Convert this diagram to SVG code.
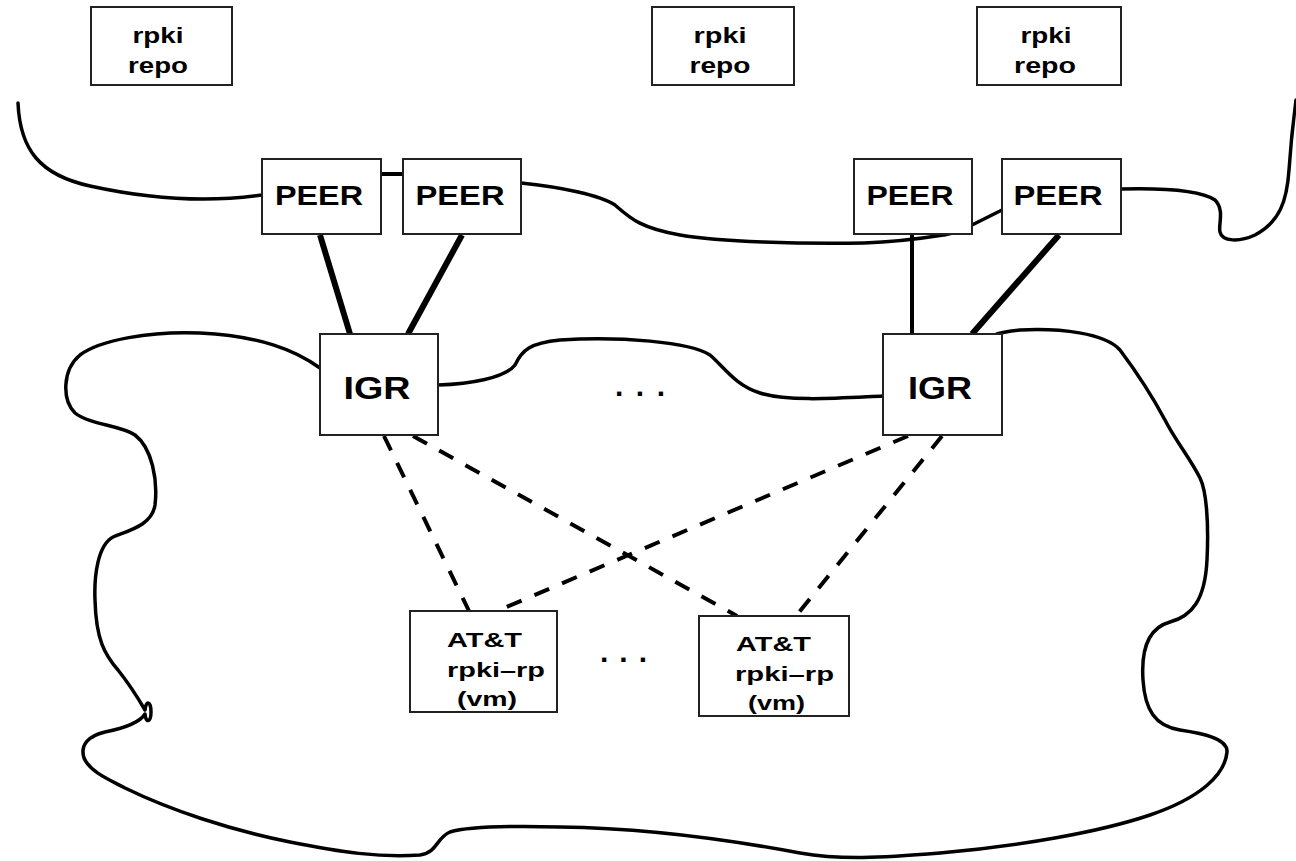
<svg xmlns="http://www.w3.org/2000/svg" width="1296" height="861" viewBox="0 0 1296 861">
<style>
.bg{fill:#fff}
.curve{fill:none;stroke:#000;stroke-width:3.5;stroke-linecap:round;stroke-linejoin:round}
.thick{fill:none;stroke:#000;stroke-width:6;stroke-linecap:butt}
.mid{fill:none;stroke:#000;stroke-width:4}
.dash{fill:none;stroke:#000;stroke-width:4;stroke-dasharray:16 14}
.box{fill:#fff;stroke:#222;stroke-width:2}
text{font-family:"Liberation Sans",Arial,Helvetica,sans-serif;font-weight:bold;fill:#000}
.repo{font-size:22px;text-anchor:middle}
.peer{font-size:28px;text-anchor:middle}
.igr{font-size:31px;text-anchor:middle}
.rp{font-size:21px}
.dots{font-size:30px}
</style>
<rect class="bg" x="0" y="0" width="1296" height="861"/>
<g id="clouds">
<path class="curve" d="M18,103 C20,150 40,175 90,186 C140,197 200,204 262,195"/>
<path class="curve" d="M521,183 C560,187 600,195 615,205 C630,218 640,228 680,235 C720,242 800,244 864,243 C900,242 925,238 944,235 C955,233 965,229 972,225 L1002,210"/>
<path class="curve" d="M1121,189 C1160,188 1200,190 1215,200 C1225,210 1218,225 1220,232 C1222,242 1240,242 1255,235 C1280,222 1287,200 1289,170 C1291,140 1294,115 1296,100"/>
<path class="curve" d="M438,385 C470,384 505,378 515,365 C522,350 530,343 560,340 C620,336 690,342 710,355 C725,368 735,385 760,393 C790,402 840,398 883,396"/>
<path class="curve" d="M320,368 C295,350 260,336 200,333 C150,331 100,340 80,355 C62,370 62,400 75,413 C90,425 120,425 135,435 C152,448 158,480 155,505 C152,525 130,530 113,537 C98,545 94,575 95,600 C96,640 105,655 118,670 C130,685 138,698 145,710 C146,700 151,701 151,712 C151,722 146,724 145,714 C140,722 125,728 105,732 C88,736 80,745 84,758 C90,772 110,780 125,788 C170,810 230,830 290,842 C340,852 380,858 420,855 C438,852 436,838 450,832 C470,826 520,826 560,827 C640,828 720,838 800,853 C840,860 880,858 940,853 C1020,846 1100,832 1150,815 C1200,798 1225,775 1227,752 C1228,738 1200,733 1180,730 C1155,726 1145,710 1143,680 C1141,650 1148,628 1170,622 C1192,616 1205,600 1207,560 C1209,520 1206,490 1200,478 C1190,458 1175,440 1165,420 C1150,392 1135,370 1120,350 C1105,333 1060,328 1020,330 C1010,331 1003,332 997,334"/>
</g>
<g id="connectors">
<line class="mid" x1="381" y1="174" x2="403" y2="174"/>
<line class="thick" x1="320" y1="235" x2="350" y2="334"/>
<line class="thick" x1="462" y1="235" x2="408" y2="334"/>
<line class="mid" x1="912" y1="235" x2="912" y2="334"/>
<line class="thick" x1="1059" y1="235" x2="972" y2="334"/>
<line class="dash" x1="384" y1="436" x2="469" y2="611"/>
<line class="dash" x1="413" y1="436" x2="737" y2="616"/>
<line class="dash" x1="908" y1="436" x2="497" y2="611"/>
<line class="dash" x1="942" y1="436" x2="796" y2="616"/>
</g>
<g id="repo1"><rect class="box" x="91" y="7" width="141" height="78"/><text class="repo" x="158" y="43" textLength="51" lengthAdjust="spacingAndGlyphs">rpki</text><text class="repo" x="158" y="73" textLength="60" lengthAdjust="spacingAndGlyphs">repo</text></g>
<g id="repo2"><rect class="box" x="652" y="7" width="142" height="78"/><text class="repo" x="720" y="43" textLength="53" lengthAdjust="spacingAndGlyphs">rpki</text><text class="repo" x="720" y="73" textLength="61" lengthAdjust="spacingAndGlyphs">repo</text></g>
<g id="repo3"><rect class="box" x="977" y="7" width="144" height="78"/><text class="repo" x="1046" y="43" textLength="51" lengthAdjust="spacingAndGlyphs">rpki</text><text class="repo" x="1045" y="73" textLength="62" lengthAdjust="spacingAndGlyphs">repo</text></g>
<g id="peer1"><rect class="box" x="262" y="159" width="119" height="75"/><text class="peer" x="319" y="205" textLength="88" lengthAdjust="spacingAndGlyphs">PEER</text></g>
<g id="peer2"><rect class="box" x="403" y="159" width="118" height="75"/><text class="peer" x="460" y="205" textLength="89" lengthAdjust="spacingAndGlyphs">PEER</text></g>
<g id="peer3"><rect class="box" x="854" y="159" width="118" height="75"/><text class="peer" x="910" y="205" textLength="87" lengthAdjust="spacingAndGlyphs">PEER</text></g>
<g id="peer4"><rect class="box" x="1002" y="159" width="119" height="75"/><text class="peer" x="1058" y="205" textLength="89" lengthAdjust="spacingAndGlyphs">PEER</text></g>
<g id="igr1"><rect class="box" x="320" y="334" width="118" height="101"/><text class="igr" x="377" y="399" textLength="67" lengthAdjust="spacingAndGlyphs">IGR</text></g>
<g id="igr2"><rect class="box" x="883" y="334" width="119" height="101"/><text class="igr" x="940" y="399" textLength="64" lengthAdjust="spacingAndGlyphs">IGR</text></g>
<g id="rp1"><rect class="box" x="410" y="611" width="147" height="101"/><text class="rp" x="447" y="647" textLength="75" lengthAdjust="spacingAndGlyphs">AT&amp;T</text><text class="rp" x="447" y="677" textLength="98" lengthAdjust="spacingAndGlyphs">rpki–rp</text><text class="rp" x="457" y="706" textLength="60" lengthAdjust="spacingAndGlyphs">(vm)</text></g>
<g id="rp2"><rect class="box" x="699" y="616" width="150" height="100"/><text class="rp" x="736" y="651" textLength="75" lengthAdjust="spacingAndGlyphs">AT&amp;T</text><text class="rp" x="735" y="681" textLength="99" lengthAdjust="spacingAndGlyphs">rpki–rp</text><text class="rp" x="748" y="710" textLength="57" lengthAdjust="spacingAndGlyphs">(vm)</text></g>
<g id="ellipsis1"><text class="dots" x="615" y="396" textLength="50" lengthAdjust="spacing">...</text></g>
<g id="ellipsis2"><text class="dots" x="600" y="662" textLength="47" lengthAdjust="spacing">...</text></g>
</svg>
